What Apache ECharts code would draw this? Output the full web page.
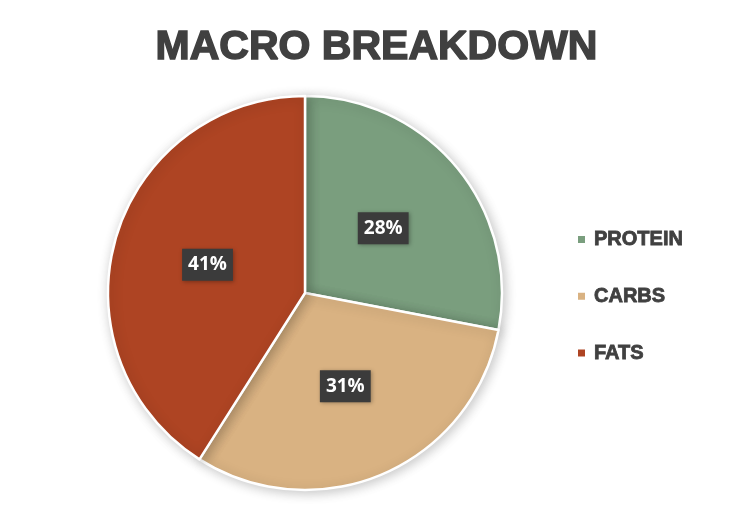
<!doctype html>
<html>
<head>
<meta charset="utf-8"/>
<title>Macro Breakdown</title>
<style>
    html, body { margin: 0; padding: 0; background: #fff; }
    #chart { width: 753px; height: 515px; }
</style>
</head>
<body>
<div id="chart"></div>
<script src="https://cdn.jsdelivr.net/npm/echarts@6/dist/echarts.min.js"></script>
<script>
    const categories = ["PROTEIN", "CARBS", "FATS"];
    const values = [28, 31, 41];
    const colors = ["#7A9E7E", "#D9B282", "#AE4423"];

    var chart = echarts.init(document.getElementById("chart"));

    var option = {
        backgroundColor: "#fff",
        color: colors,
        title: {
            text: "MACRO BREAKDOWN",
            left: "center",
            top: 22,
            textStyle: {
                fontFamily: "Liberation Sans",
                fontWeight: "bold",
                fontSize: 41,
                color: "#404040",
                textBorderColor: "#404040",
                textBorderWidth: 1.5
            }
        },
        legend: {
            orient: "vertical",
            left: 576,
            top: 229,
            padding: 0,
            itemWidth: 9,
            itemHeight: 9,
            itemGap: 36,
            icon: "rect",
            data: categories,
            textStyle: {
                fontFamily: "Liberation Sans",
                fontWeight: "bold",
                fontSize: 20,
                color: "#404040",
                textBorderColor: "#404040",
                textBorderWidth: 0.8,
                padding: [0, 0, 0, 3]
            }
        },
        series: [
            {
                type: "pie",
                center: [305, 293],
                radius: 197,
                startAngle: 90,
                clockwise: true,
                silent: true,
                itemStyle: {
                    borderColor: "#fff",
                    borderWidth: 2.5,
                    shadowBlur: 12,
                    shadowColor: "rgba(0,0,0,0.22)",
                    shadowOffsetX: 2,
                    shadowOffsetY: 2
                },
                label: {
                    position: "inside",
                    formatter: "{c}%",
                    fontFamily: "Open Sans",
                    fontWeight: "bold",
                    fontSize: 19,
                    lineHeight: 20,
                    color: "#fff",
                    backgroundColor: "#3B3B3B",
                    padding: [6, 6, 6, 6],
                    shadowBlur: 4,
                    shadowColor: "rgba(0,0,0,0.3)",
                    shadowOffsetX: 1,
                    shadowOffsetY: 1
                },
                labelLine: { show: false },
                data: categories.map(function (name, i) {
                    return { name: name, value: values[i] };
                })
            }
        ]
    };
    chart.setOption(option);
</script>
</body>
</html>
